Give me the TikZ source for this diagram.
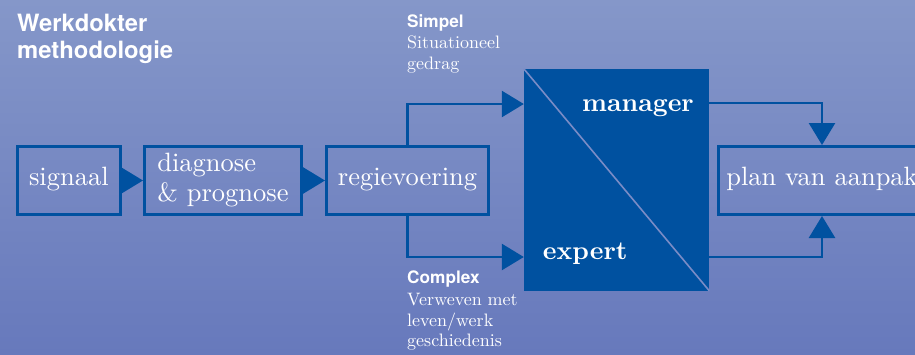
\documentclass[tikz,border=0pt]{standalone}
\usepackage{fontspec}
\setmainfont{lmroman10-regular.otf}[BoldFont=lmroman10-bold.otf]
\newfontfamily\headfont{TeX Gyre Heros}
\usetikzlibrary{arrows.meta}
\definecolor{bgtop}{RGB}{133,151,201}
\definecolor{bgbot}{RGB}{103,121,188}
\definecolor{dkblue}{RGB}{0,81,160}
\definecolor{diagline}{RGB}{122,140,198}
\tikzset{
  boxnode/.style={draw=dkblue, line width=2.6pt, inner sep=0pt, text=white,
    font=\fontsize{26.5}{30}\selectfont, text height=14pt, text depth=5pt, minimum height=68.4pt},
  arr/.style={draw=dkblue, line width=2.6pt, -{Triangle[width=26pt,length=22pt]}},
  titletext/.style={anchor=base west, inner sep=0pt, text=white, font=\headfont\bfseries\fontsize{23.8}{28}\selectfont},
  headlab/.style={anchor=base west, inner sep=0pt, text=white, font=\headfont\bfseries\fontsize{17.2}{20}\selectfont},
  seriflab/.style={anchor=base west, inner sep=0pt, text=white, font=\fontsize{18}{21}\selectfont},
  rolelab/.style={inner sep=0pt, text=white, font=\bfseries\fontsize{26}{30}\selectfont}
}
\begin{document}
\begin{tikzpicture}[x=1pt,y=-1pt]
\useasboundingbox (0,0) rectangle (915,354);
\clip (0,0) rectangle (915,354);
\shade[top color=bgtop, bottom color=bgbot] (0,0) rectangle (915,354);

% title
\node[titletext] (title1) at (17,31) {Werkdokter};
\node[titletext] (title2) at (17,58) {methodologie};

% boxes
\node[boxnode, minimum width=103.1pt] (sig) at (68.85,180.5) {signaal};
\node[boxnode, minimum width=157.4pt, align=left, text height=, text depth=] (diag) at (223,180.5) {diagnose\\\& prognose};
\node[boxnode, minimum width=162.4pt] (reg) at (407.5,180.5) {regievoering};
\node[fill=dkblue, draw=none, inner sep=0pt, minimum width=185pt, minimum height=221.5pt] (dark) at (616.5,179.75) {};
\node[boxnode, minimum width=207.4pt] (plan) at (822,180.5) {plan van aanpak};

% diagonal
\draw[diagline, line width=1.6pt] (dark.north west) -- (dark.south east);

% role labels
\node[rolelab, anchor=base east] (mgr) at (694,111.7) {manager};
\node[rolelab, anchor=base west] (exp) at (542.7,259.3) {expert};

% connectors
\draw[arr] (sig) -- (diag);
\draw[arr] (diag) -- (reg);
\draw[arr] (reg.north) |- ([yshift=75.75pt]dark.west);
\draw[arr] (reg.south) |- ([yshift=-77.25pt]dark.west);
\draw[arr] ([yshift=76.75pt]dark.east) -| (plan.north);
\draw[arr] ([yshift=-77.25pt]dark.east) -| (plan.south);

% side labels
\node[headlab] (simpel) at (407,27) {Simpel};
\node[seriflab] (sit1) at (407,48.3) {Situationeel};
\node[seriflab] (sit2) at (407,69.5) {gedrag};
\node[headlab] (complex) at (407,283) {Complex};
\node[seriflab] (cx1) at (407,305) {Verweven met};
\node[seriflab] (cx2) at (407,326) {leven/werk};
\node[seriflab] (cx3) at (407,346.7) {geschiedenis};
\end{tikzpicture}
\end{document}
